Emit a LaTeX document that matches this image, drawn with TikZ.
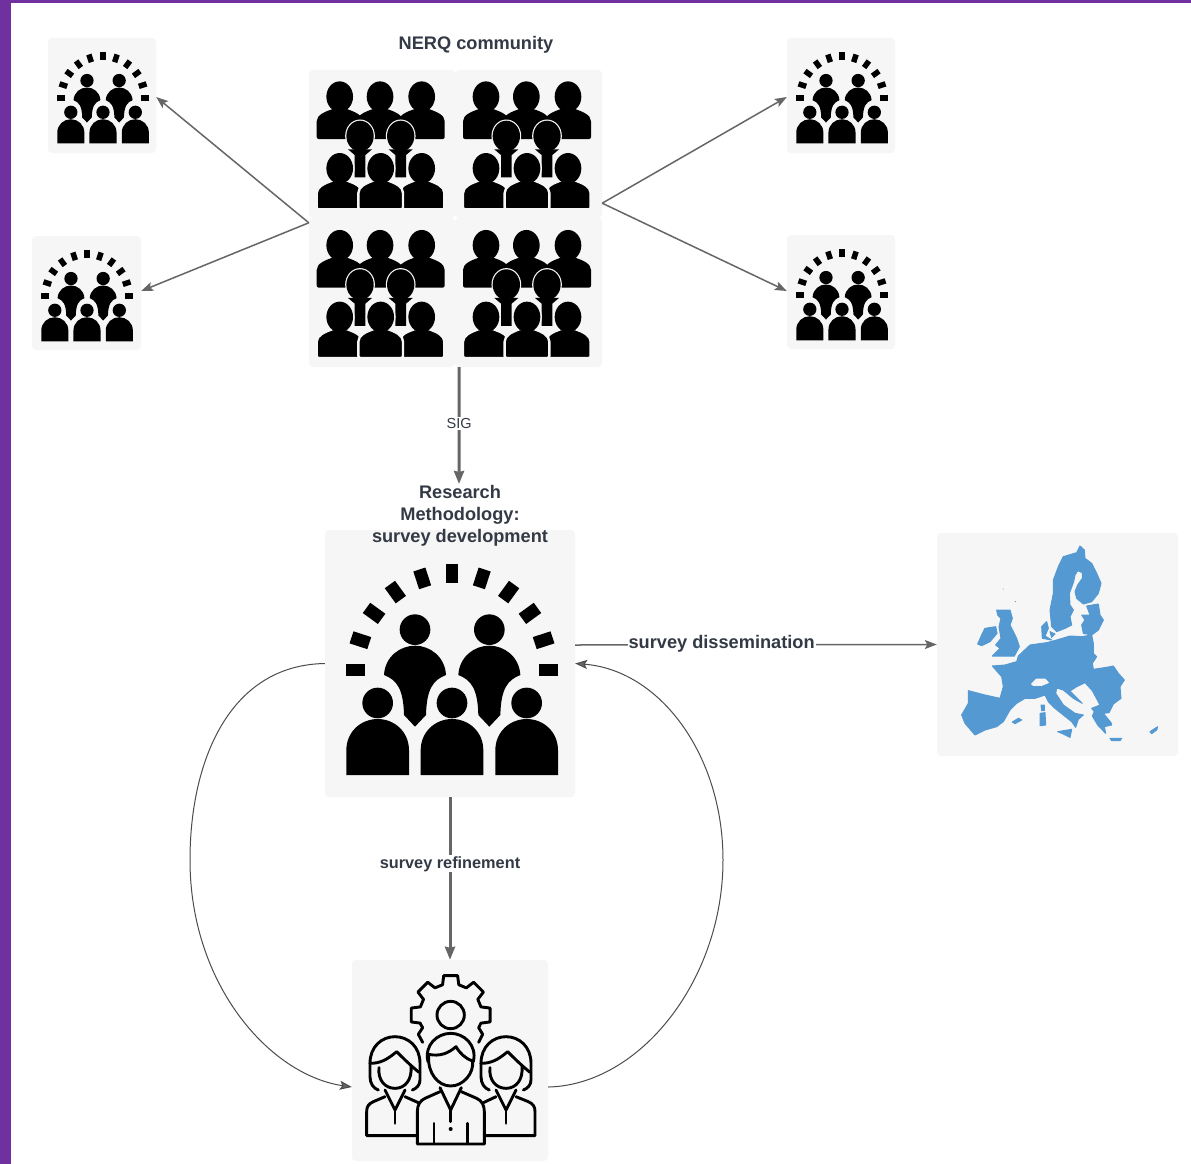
\documentclass[tikz,border=0pt]{standalone}
\usepackage{fontspec}
\setmainfont{Liberation Sans}
\usetikzlibrary{arrows.meta}
\definecolor{tile}{HTML}{F6F6F6}
\definecolor{ink}{HTML}{333A45}
\definecolor{conn}{HTML}{666666}
\definecolor{frame}{HTML}{7030A0}
\definecolor{eu}{HTML}{5499D2}
\newcommand{\womanicon}[2]{%
  \begin{scope}[shift={(#1,#2)}]
    \draw (-48,-12) .. controls (-52,25) and (-30,50) .. (0,50) .. controls (30,50) and (52,25) .. (48,-18);
    \draw (-75,-25) .. controls (-75,-75) and (-40,-105) .. (0,-105) .. controls (40,-105) and (75,-75) .. (75,-25) -- (75,25) .. controls (75,40) and (65,50) .. (52,55);
    \draw (-75,-25) -- (-75,15) .. controls (-75,35) and (-65,50) .. (-50,55);
    \draw (-75,-25) .. controls (-45,-25) and (-25,-35) .. (5,-60) .. controls (20,-45) and (45,-20) .. (72,2);
    \draw (-30,55) -- (0,115) -- (30,55);
    \draw (0,115) -- (0,155);
  \end{scope}}
\tikzset{
  tilebox/.style={fill=tile,rounded corners=4pt,inner sep=0pt,draw=none},
  thinarrow/.style={draw=conn,line width=1.5pt,-{Stealth[length=12pt,width=9pt,inset=2.5pt]}},
  thickarrow/.style={draw=conn,line width=3pt,-{Stealth[length=13pt,width=10pt,inset=1pt]}},
  curvearrow/.style={draw=black!70,line width=1pt,-{Stealth[length=12pt,width=9pt,inset=2.5pt,fill=conn]}},
  title/.style={font=\bfseries\fontsize{18.2}{22}\selectfont,text=ink,align=center,inner sep=0pt},
  edgelabel/.style={fill=white,inner sep=1pt,text=ink,font=\bfseries\fontsize{18.2}{20}\selectfont},
  halo/.style={fill=black,draw=tile,line width=2.4pt},
  audience/.pic={
    \begin{scope}[shift={(-396,-435)}]
    \foreach \a in {0,18,...,180}
      \fill[shift={({396-289*cos(\a)},{435-289*sin(\a)})},rotate=-\a] (-28,-19) rectangle (28,19);
    \foreach \c in {285,508} {
      \fill (\c,314) circle[radius=46];
      \fill (\c-93,450) .. controls (\c-90,395) and (\c-45,362) .. (\c,362)
        .. controls (\c+45,362) and (\c+90,395) .. (\c+93,450)
        .. controls (\c+55,465) and (\c+35,490) .. (\c+33,570)
        -- (\c,605) -- (\c-33,570)
        .. controls (\c-35,490) and (\c-55,465) .. (\c-93,450) -- cycle;
    }
    \foreach \c in {173,396,620} {
      \fill (\c,534) circle[radius=46];
      \fill (\c-94,750) -- (\c-94,676) .. controls (\c-94,620) and (\c-50,582) .. (\c,582)
        .. controls (\c+50,582) and (\c+94,620) .. (\c+94,676) -- (\c+94,750) -- cycle;
    }
    \end{scope}
  },
  crowd/.pic={
    \begin{scope}[shift={(-50,-65)}]
    \foreach \c in {119,240,365} {
      \fill (\c,110) ellipse[x radius=40,y radius=46];
      \fill[rounded corners=2pt] (\c-69,237) -- (\c-69,190) .. controls (\c-69,165) and (\c-45,155) .. (\c-15,145)
        -- (\c+15,145) .. controls (\c+45,155) and (\c+69,165) .. (\c+69,190) -- (\c+69,237) -- cycle;
    }
    \foreach \c in {180,302} {
      \draw[halo] (\c,228) ellipse[x radius=41,y radius=46];
      \fill[tile] (\c-24,262) rectangle (\c+24,358);
      \fill (\c,228) ellipse[x radius=41,y radius=46];
      \fill (\c-16,352) -- (\c-16,285) -- (\c-36,268) -- (\c+36,268) -- (\c+16,285) -- (\c+16,352) -- cycle;
    }
    \foreach \c/\w in {119/69,365/68,242/67} {
      \draw[halo] (\c,325) ellipse[x radius=41,y radius=46];
      \draw[halo,rounded corners=2pt] (\c-\w,448) -- (\c-\w,405) .. controls (\c-\w,380) and (\c-45,370) .. (\c-18,360)
        -- (\c+18,360) .. controls (\c+45,370) and (\c+\w,380) .. (\c+\w,405) -- (\c+\w,448) -- cycle;
      \fill (\c,325) ellipse[x radius=40,y radius=46];
    }
    \end{scope}
  },
  team/.pic={
    \begin{scope}[line width=2.9pt,line join=round,line cap=round]
    \draw (218,262) -- (205,238) -- (218,218) -- (212,208)
      \foreach \t in {180,135,90,45,0} {
        -- ({302+94*cos(\t+15)},{180-94*sin(\t+15)})
        -- ({302+120*cos(\t+10)},{180-120*sin(\t+10)})
        -- ({302+120*cos(\t-10)},{180-120*sin(\t-10)})
        -- ({302+94*cos(\t-15)},{180-94*sin(\t-15)})
      } -- (386,218) -- (398,238) -- (386,262);
    \draw (302,180) circle[radius=41];
    \womanicon{135}{350}
    \womanicon{468}{350}
    \draw (236,302) .. controls (232,355) and (265,393) .. (302,393) .. controls (340,393) and (372,355) .. (368,318);
    \draw (234,320) .. controls (222,270) and (262,235) .. (302,235) .. controls (342,235) and (382,270) .. (370,320);
    \draw (236,298) .. controls (270,305) and (295,295) .. (318,275) .. controls (330,295) and (345,310) .. (368,318);
    \draw (270,398) -- (302,465) -- (334,398);
    \draw (302,465) -- (302,500);
    \draw (270,410) -- (225,430) .. controls (210,437) and (202,450) .. (202,470) -- (202,567) -- (403,567) -- (403,470) .. controls (403,450) and (395,437) .. (380,430) -- (334,410);
    \draw (252,505) -- (252,565) (352,505) -- (352,565);
    \fill (302,522) circle[radius=6];
    \draw (105,425) -- (70,440) .. controls (55,447) and (50,455) .. (50,470) -- (50,542) -- (202,542);
    \draw (165,425) -- (205,443);
    \draw (438,425) -- (400,443);
    \draw (498,425) -- (535,440) .. controls (550,447) and (555,455) .. (555,470) -- (555,542) -- (403,542);
    \end{scope}
  },
  europe/.pic={
    \begin{scope}[fill=eu,draw=eu,line width=1pt,line join=round]
    % mainland
    \filldraw (172,408) -- (210,405) -- (245,395) -- (250,378) -- (285,345) -- (335,338) -- (365,330) -- (405,318)
      -- (440,320) -- (470,315) -- (475,340) -- (475,370) -- (485,380) -- (472,400) -- (475,418) -- (515,412)
      -- (535,408) -- (550,430) -- (568,450) -- (555,470) -- (558,505) -- (535,522) -- (522,548) -- (505,550)
      -- (528,578) -- (530,585) -- (508,590) -- (512,610) -- (488,585) -- (472,558) -- (478,545)
      -- (470,535) -- (495,525) -- (472,482) -- (450,458) -- (425,470) -- (405,483) -- (442,520) -- (415,505)
      -- (385,480) -- (365,474) -- (362,490) -- (385,525) -- (420,550) -- (445,555) -- (430,568) -- (422,592)
      -- (410,575) -- (385,555) -- (360,535) -- (340,515) -- (330,495) -- (300,505) -- (270,505) -- (245,520)
      -- (225,540) -- (205,575) -- (185,590) -- (150,600) -- (120,615) -- (90,580) -- (80,555) -- (100,520)
      -- (100,482) -- (150,495) -- (195,505) -- (205,470) -- (200,440) -- cycle;
    % Scandinavia
    \filldraw (435,48) -- (448,60) -- (450,85) -- (470,100) -- (485,130) -- (498,160) -- (490,190) -- (470,215)
      -- (445,222) -- (425,205) -- (420,185) -- (428,165) -- (442,145) -- (442,128) -- (428,122) -- (420,135) -- (416,155) -- (403,190)
      -- (405,225) -- (415,240) -- (405,260) -- (410,285) -- (390,295) -- (365,305) -- (350,290) -- (345,240)
      -- (355,190) -- (355,150) -- (370,110) -- (385,80) -- (425,68) -- cycle;
    % Baltics
    \filldraw (455,228) -- (490,222) -- (495,255) -- (505,270) -- (490,300) -- (470,315) -- (445,310) -- (440,285)
      -- (450,270) -- (440,255) -- (465,255) -- cycle;
    % Denmark
    \filldraw (320,290) -- (335,275) -- (340,295) -- (330,318) -- (350,330) -- (322,325) -- cycle;
    \filldraw (345,305) -- (360,312) -- (350,322) -- cycle;
    % UK and Ireland
    \filldraw (185,240) -- (225,240) -- (232,265) -- (225,285) -- (245,325) -- (253,350) -- (238,378) -- (172,378)
      -- (195,355) -- (182,345) -- (198,325) -- (192,290) -- (198,265) -- (188,255) -- cycle;
    \filldraw (128,342) -- (140,315) -- (150,295) -- (182,290) -- (186,310) -- (165,335) -- (140,347) -- cycle;
    % islands
    \filldraw (318,525) -- (328,525) -- (328,542) -- (320,542) -- cycle;
    \filldraw (315,550) -- (330,548) -- (332,585) -- (315,587) -- cycle;
    \filldraw (368,605) -- (410,598) -- (405,622) -- (385,612) -- cycle;
    \filldraw (232,576) -- (250,565) -- (260,570) -- (240,581) -- cycle;
    \filldraw (525,625) -- (560,625) -- (555,632) -- (530,632) -- cycle;
    \filldraw (645,605) -- (668,590) -- (665,600) -- (650,611) -- cycle;
    \fill (241,215) circle[radius=2];
    \fill (205,177) circle[radius=1.5];
    % Switzerland
    \filldraw[fill=tile,draw=tile] (290,462) -- (305,447) -- (330,447) -- (340,458) -- (320,466) -- (295,466) -- cycle;
    \end{scope}
  }
}
\begin{document}
\begin{tikzpicture}[x=1pt,y=-1pt]
\useasboundingbox (0,0) rectangle (1191,1164);
\fill[white] (0,0) rectangle (1191,1164);
\fill[frame] (0,0) rectangle (1191,3);
\fill[frame] (0,0) rectangle (11,1164);

% tiles
\node[tilebox,minimum width=146pt,minimum height=148pt] (big1) at (382,144) {};
\node[tilebox,minimum width=147pt,minimum height=148pt] (big2) at (528.5,144) {};
\node[tilebox,minimum width=146pt,minimum height=149pt] (big3) at (382,292.5) {};
\node[tilebox,minimum width=147pt,minimum height=149pt] (big4) at (528.5,292.5) {};
\node[tilebox,minimum width=108pt,minimum height=115pt] (tl) at (102,95.5) {};
\node[tilebox,minimum width=109pt,minimum height=114pt] (bl) at (86.5,293) {};
\node[tilebox,minimum width=108pt,minimum height=115pt] (tr) at (841,95.5) {};
\node[tilebox,minimum width=108pt,minimum height=114pt] (br) at (841,292) {};
\node[tilebox,minimum width=250pt,minimum height=267pt] (dev) at (450,663.5) {};
\node[tilebox,minimum width=196pt,minimum height=201pt] (team) at (450,1060.5) {};
\node[tilebox,minimum width=241pt,minimum height=223pt] (map) at (1057.5,644.5) {};

% icons
\pic[scale=1/3] at (316.7,81.7) {crowd};
\pic[scale=1/3] at (463,81.7) {crowd};
\pic[scale=1/3] at (316.7,230.3) {crowd};
\pic[scale=1/3] at (463,230.3) {crowd};
\pic[scale=.1443] at (103,98) {audience};
\pic[scale=.1443] at (87,296) {audience};
\pic[scale=.1443] at (842,98) {audience};
\pic[scale=.1443] at (842,295) {audience};
\pic[scale=1/3] at (452,670) {audience};
\pic[scale=1/3] at (350,955) {team};
\pic[scale=1/3] at (935,530) {europe};

% titles
\node[title] (t1) at (476,44.5) {NERQ community};
\node[title] (t2) at (460,516) {Research\\Methodology:\\survey development};

% connectors
\draw[thinarrow] ([yshift=-5pt]big3.north west) -- ([yshift=-1.5pt]tl.east);
\draw[thinarrow] ([yshift=-5pt]big3.north west) -- ([yshift=2pt]bl.east);
\draw[thinarrow] ([yshift=15pt]big2.south east) -- ([yshift=-1.5pt]tr.west);
\draw[thinarrow] ([yshift=15pt]big2.south east) -- ([yshift=1pt]br.west);
\draw[thickarrow] ([xshift=4pt]big3.south east) -- node[pos=.48,fill=white,inner sep=1.5pt,text=ink,font=\fontsize{14.5}{16}\selectfont] (sig) {SIG} ([xshift=9pt]dev.north |- 0,484);
\draw[thickarrow] (dev.south) -- node[pos=.41,fill=white,inner sep=1pt,text=ink,font=\bfseries\fontsize{16.3}{18}\selectfont] (ref) {survey refinement} (team.north);
\draw[thinarrow] ([yshift=18.5pt]dev.east) -- node[edgelabel,pos=.405,yshift=1.5pt] (dis) {survey dissemination} (map.west);
\draw[curvearrow] (dev.west) .. controls (230,665) and (190,760) .. (190,860) .. controls (190,985) and (270,1075) .. ([yshift=-26.5pt]team.west);
\draw[curvearrow] ([yshift=-26.5pt]team.east) .. controls (640,1085) and (723,980) .. (723,860) .. controls (723,755) and (660,670) .. (dev.east);
\end{tikzpicture}
\end{document}
